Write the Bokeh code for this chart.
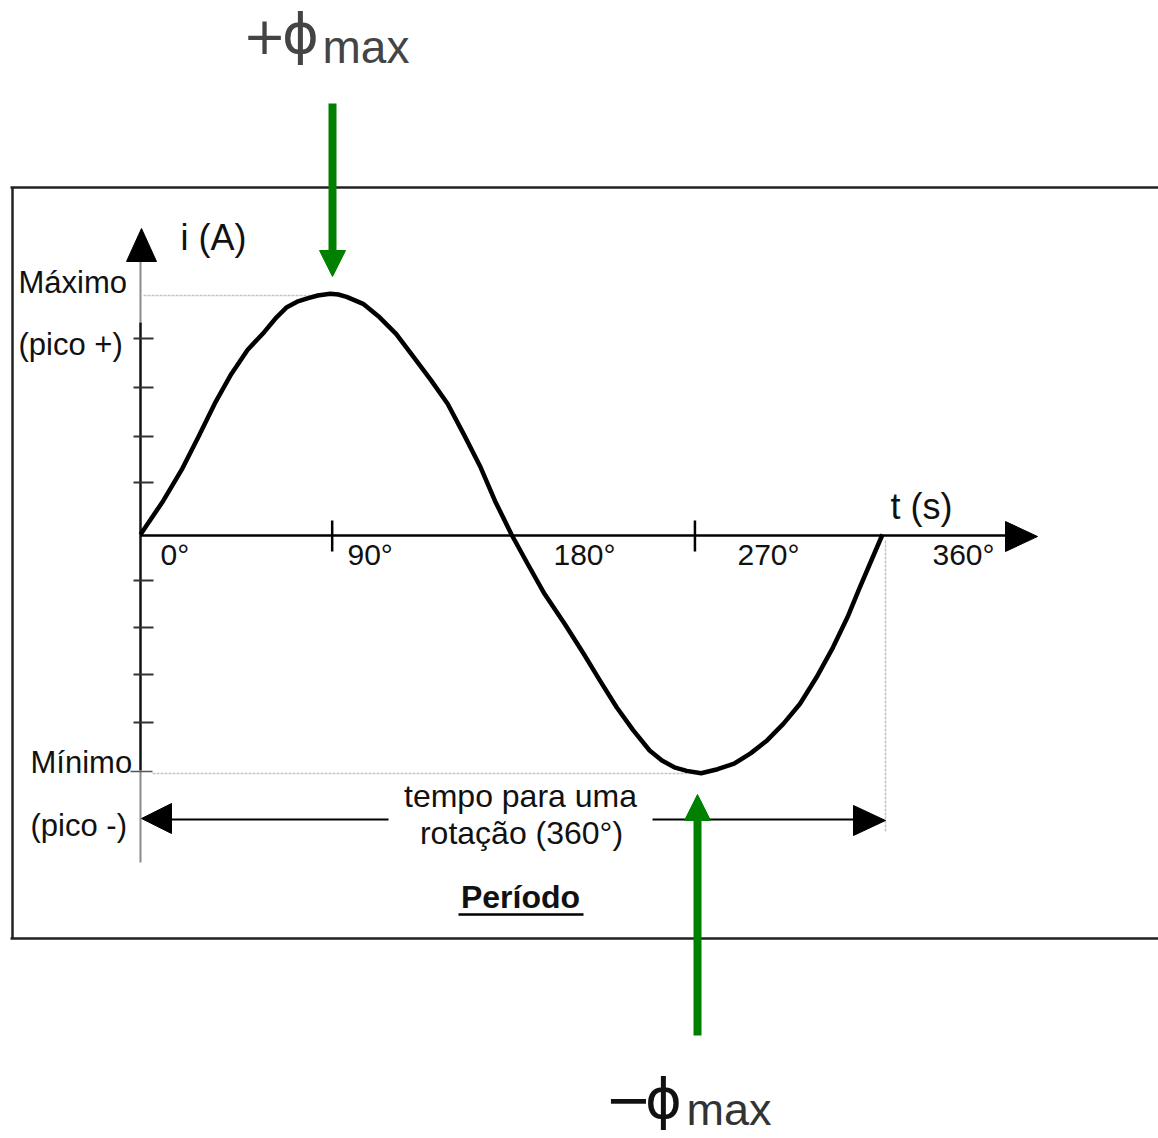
from bokeh.plotting import figure
from bokeh.models import Range1d
from bokeh.core.properties import value
from bokeh.embed import file_html
from bokeh.resources import INLINE

# ---- data ----
angle_deg = [0, 11, 20, 28, 36, 44, 52, 60, 66, 71, 76, 81, 86, 92, 96, 100, 108, 116,
             124, 132, 141, 149, 157, 165, 172, 180,
             188, 196, 206, 215, 223, 231, 239, 247, 253, 259, 265, 272, 280, 288, 296,
             304, 312, 320, 328, 336, 343, 349, 355, 360]
current = [0.0, 0.14, 0.27, 0.405, 0.545, 0.668, 0.77, 0.843, 0.905, 0.947, 0.97, 0.984,
           0.996, 1.003, 1.0, 0.99, 0.961, 0.905, 0.836, 0.745, 0.642, 0.545, 0.415,
           0.28, 0.14, 0.0,
           -0.125, -0.247, -0.375, -0.497, -0.61, -0.72, -0.815, -0.9, -0.942, -0.97,
           -0.985, -0.995, -0.978, -0.955, -0.912, -0.858, -0.788, -0.705, -0.595,
           -0.47, -0.345, -0.22, -0.1, 0.0]
x_tick_deg = [93, 269]
x_tick_labels = ["0°", "90°", "180°", "270°", "360°"]
y_tick_amp = [0.817, 0.6125, 0.408, 0.217, -0.192, -0.3875, -0.583, -0.783]

# ---- mapping helpers (reference pixel -> data) ----
K = 742 / 360.0
def X(px):
    return (px - 140) / K
def Y(py):
    return (534 - py) / 240.0

W, H = 1158, 1138
p = figure(width=W, height=H, x_range=Range1d(X(0), X(W)),
           y_range=Range1d(Y(H), Y(0)), output_backend="svg",
           toolbar_location=None, min_border=0)
p.axis.visible = False
p.grid.visible = False
p.outline_line_color = None
p.background_fill_color = "white"
p.border_fill_color = "white"

def seg(x0, y0, x1, y1, color="black", width=2, dash="solid", cap="butt"):
    p.segment(x0=[X(x0)], y0=[Y(y0)], x1=[X(x1)], y1=[Y(y1)], line_color=color,
              line_width=width, line_dash=dash, line_cap=cap)

def tri(pts, color="black"):
    p.patch(x=[X(a) for a, b in pts], y=[Y(b) for a, b in pts], fill_color=color,
            line_color=color, line_width=1)

def txt(x, y, s, size, font="Liberation Sans", align="left", style="normal", color="black"):
    # y is the desired alphabetic baseline; compensate renderer offset
    yy = y - 0.37 * size
    p.text(x=[X(x)], y=[Y(yy)], text=[s], text_font=value(font),
           text_font_size=f"{size}px", text_align=align, text_baseline="alphabetic",
           text_font_style=style, text_color=color)

# frame
seg(10, 187, 1158, 187, color="#222222", width=2.5)
seg(12, 187, 12, 938, color="#222222", width=2.5)
seg(10, 938, 1158, 938, color="#222222", width=2.5)

# dotted guides
seg(143, 295, 328, 295, color="#c4c4c4", width=1.5, dash="3 1")
seg(152, 773, 700, 773, color="#c4c4c4", width=1.5, dash="3 1")
seg(885, 540, 885, 832, color="#c4c4c4", width=1.5, dash="3 1")

# vertical axis
seg(140, 258, 140, 322, color="#8a8a8a", width=2)
seg(140, 322, 140, 770, color="#111111", width=2.5)
seg(140, 770, 140, 862, color="#8a8a8a", width=2)
tri([(141, 228), (126, 261), (156, 261)])
for a in y_tick_amp:
    p.segment(x0=[X(133)], y0=[a], x1=[X(153)], y1=[a], line_color="#333333", line_width=2)
seg(130, 771, 152, 771, color="#555555", width=1.5)

# horizontal axis
seg(140, 535, 1006, 535, color="black", width=2.5)
tri([(1037, 536), (1005, 521), (1005, 551)])
for d in x_tick_deg:
    p.segment(x0=[d], y0=[Y(520)], x1=[d], y1=[Y(551)], line_color="black", line_width=2.5)

# curve
p.line(angle_deg, current, line_color="black", line_width=4.5, line_join="round")

# tick labels
for s, lx in zip(x_tick_labels, [160, 347, 553, 737, 932]):
    txt(lx, 565, s, 30, color="#111111")

txt(180, 250, "i (A)", 36, color="#111111")
txt(890, 519, "t (s)", 36, color="#111111")
txt(18, 293, "Máximo", 31, color="#111111")
txt(18, 355, "(pico +)", 31, color="#111111")
txt(30, 773, "Mínimo", 31, color="#111111")
txt(30, 836, "(pico -)", 31, color="#111111")

# period dimension
seg(168, 819, 388, 819, width=2)
seg(652, 819, 856, 819, width=2)
tri([(141, 818), (171, 803), (171, 833)])
tri([(885, 820), (853, 805), (853, 835)])
txt(520, 807, "tempo para uma", 32, align="center", color="#111111")
txt(521, 844, "rotação (360°)", 32, align="center", color="#111111")
txt(520, 908, "Período", 32, align="center", style="bold", color="#111111")
seg(458, 914, 583, 914, width=2.5)

# green flux arrows
G = "#008000"
seg(332, 103, 332, 252, color=G, width=8)
tri([(319, 250), (345, 250), (332, 276)], color=G)
seg(697, 1035, 697, 818, color=G, width=8)
tri([(684, 820), (710, 820), (697, 794)], color=G)

# phi max labels
txt(264, 54, "+", 52, font="DejaVu Sans", align="center", color="#444444")
txt(300, 54, "ϕ", 56, font="DejaVu Sans", align="center", color="#444444")
txt(322, 64, "max", 46, color="#444444")
txt(628, 1119, "−", 56, font="DejaVu Sans", align="center", color="#111111")
txt(663, 1119, "ϕ", 56, font="DejaVu Sans", align="center", color="#111111")
txt(686, 1126, "max", 45, color="#333333")

open("out.html", "w").write(file_html(p, INLINE))
